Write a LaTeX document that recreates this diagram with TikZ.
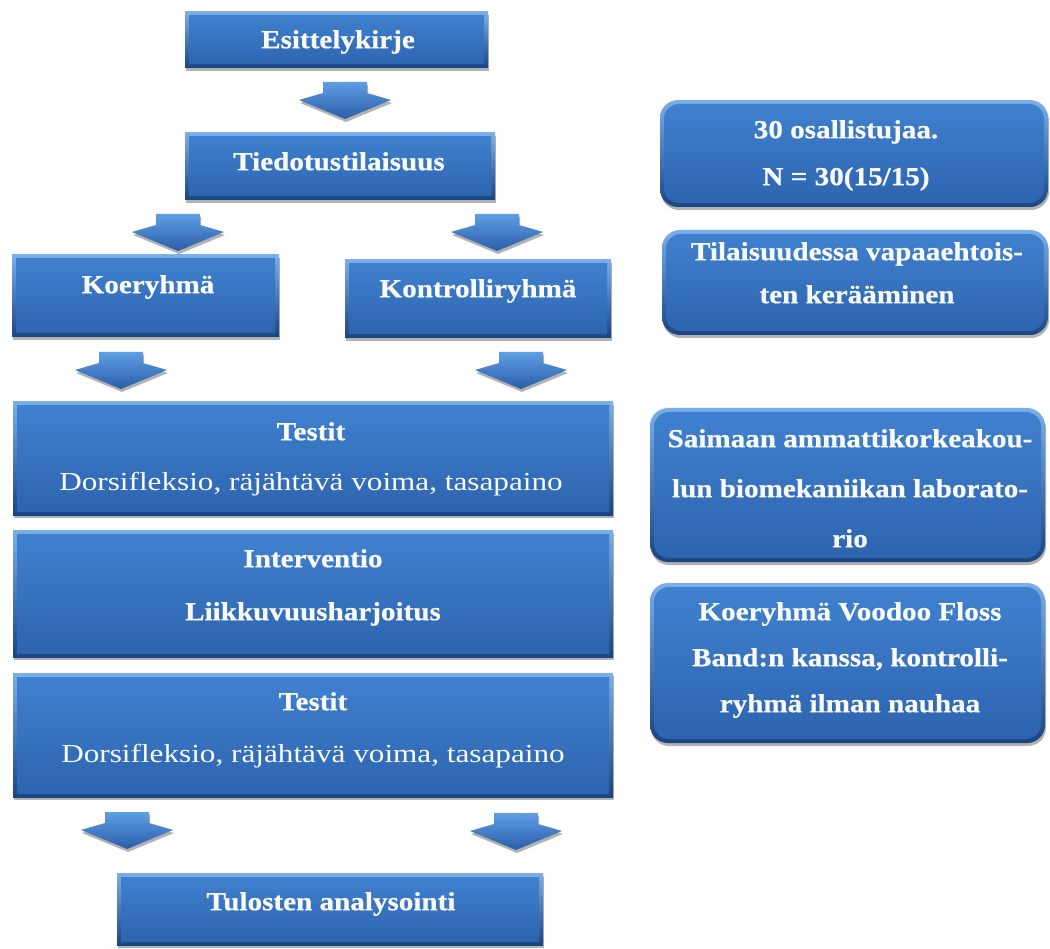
\documentclass[tikz,border=0pt]{standalone}
\usepackage{fontspec}
\setmainfont{Liberation Serif}
\newfontfamily\regfont{Liberation Serif}[FakeStretch=1.2]
\newfontfamily\bfont{Liberation Serif Bold}[FakeStretch=1.12, FakeBold=0.6]
\usetikzlibrary{shadows,calc}
\definecolor{edgelight}{HTML}{7AAFEA}
\definecolor{edgedark}{HTML}{1A4583}
\definecolor{facetop}{HTML}{4082D0}
\definecolor{facebot}{HTML}{2D63AE}
\definecolor{arrtop}{HTML}{5F9EE4}
\definecolor{arrbot}{HTML}{2A5EA8}
\definecolor{txtwhite}{HTML}{FAFAF5}
\newcommand{\mystrut}{\rule{0pt}{30pt}}
\tikzset{
  boxshadow/.style={drop shadow={shadow xshift=1pt, shadow yshift=-3pt, opacity=0.3, fill=black}},
  flowbox/.style={rectangle, inner sep=0pt, top color=edgelight, bottom color=edgedark, boxshadow,
    path picture={\shade[top color=facetop, bottom color=facebot]
      ([xshift=4pt,yshift=-4pt]path picture bounding box.north west) rectangle
      ([xshift=-4pt,yshift=4pt]path picture bounding box.south east);}},
  roundbox/.style={rectangle, rounded corners=18pt, inner sep=0pt, top color=edgelight, bottom color=edgedark, boxshadow,
    path picture={\shade[top color=facetop, bottom color=facebot, rounded corners=15pt]
      ([xshift=4pt,yshift=-4pt]path picture bounding box.north west) rectangle
      ([xshift=-4pt,yshift=4pt]path picture bounding box.south east);}},
  txt/.style={text=txtwhite, inner sep=0pt, anchor=north, align=center,
    font=\fontsize{26pt}{50pt}\selectfont\bfont},
  downarrow/.pic={\shade[top color=arrtop, bottom color=arrbot, boxshadow]
    (-22,0) -- (22,0) -- (22,11) -- (46,18) -- (0,37) -- (-46,18) -- (-22,11) -- cycle;}
}
\begin{document}
\begin{tikzpicture}[x=1pt,y=-1pt]
\fill[white] (0,0) rectangle (1050,949);
\useasboundingbox (0,0) rectangle (1050,949);

% main column boxes
\node[flowbox, minimum width=303pt, minimum height=56pt] (e) at (336.5,40) {};
\node[flowbox, minimum width=310pt, minimum height=67pt] (t) at (340,166.5) {};
\node[flowbox, minimum width=267pt, minimum height=82pt] (k) at (145.5,296) {};
\node[flowbox, minimum width=266pt, minimum height=78pt] (kr) at (478,299) {};
\node[flowbox, minimum width=600pt, minimum height=113pt] (t1) at (313,458.5) {};
\node[flowbox, minimum width=600pt, minimum height=127pt] (iv) at (313,593.5) {};
\node[flowbox, minimum width=600pt, minimum height=124pt] (t2) at (313,735) {};
\node[flowbox, minimum width=426pt, minimum height=72pt] (tul) at (330,909) {};

% right column boxes
\node[roundbox, minimum width=388pt, minimum height=107pt] (r1) at (854,153.5) {};
\node[roundbox, minimum width=386pt, minimum height=105pt] (r2) at (855,282.5) {};
\node[roundbox, minimum width=395pt, minimum height=154pt] (r3) at (847.5,485) {};
\node[roundbox, minimum width=395pt, minimum height=160pt] (r4) at (847.5,663) {};

% arrows
\pic at (345,82) {downarrow};
\pic at (178,214) {downarrow};
\pic at (497,214) {downarrow};
\pic at (121,352) {downarrow};
\pic at (521,352) {downarrow};
\pic at (127,812) {downarrow};
\pic at (516,813) {downarrow};

% texts
\node[txt] (e-t) at (338,18) {\mystrut Esittelykirje};
\node[txt] (t-t) at (339,140) {\mystrut Tiedotustilaisuus};
\node[txt] (k-t) at (148,263) {\mystrut Koeryhmä};
\node[txt] (kr-t) at (478,267) {\mystrut Kontrolliryhmä};
\node[txt] (t1-t) at (311,410) {\mystrut Testit\\ \regfont Dorsifleksio, räjähtävä voima, tasapaino};
\node[txt, font=\fontsize{26pt}{53pt}\selectfont\bfont] (iv-t) at (313,537) {\mystrut Interventio\\ Liikkuvuusharjoitus};
\node[txt, font=\fontsize{26pt}{52pt}\selectfont\bfont] (t2-t) at (313,680) {\mystrut Testit\\ \regfont Dorsifleksio, räjähtävä voima, tasapaino};
\node[txt] (tul-t) at (331,880) {\mystrut Tulosten analysointi};

\node[txt, font=\fontsize{26pt}{47pt}\selectfont\bfont] (r1-t) at (846,108) {\mystrut 30 osallistujaa.\\ N = 30(15/15)};
\node[txt, font=\fontsize{26pt}{43pt}\selectfont\bfont] (r2-t) at (857,230) {\mystrut Tilaisuudessa vapaaehtois-\\ ten kerääminen};
\node[txt, font=\fontsize{26pt}{50pt}\selectfont\bfont] (r3-t) at (850,417) {\mystrut Saimaan ammattikorkeakou-\\ lun biomekaniikan laborato-\\ rio};
\node[txt, font=\fontsize{26pt}{46pt}\selectfont\bfont] (r4-t) at (850,590) {\mystrut Koeryhmä Voodoo Floss\\ Band:n kanssa, kontrolli-\\ ryhmä ilman nauhaa};
\end{tikzpicture}
\end{document}
